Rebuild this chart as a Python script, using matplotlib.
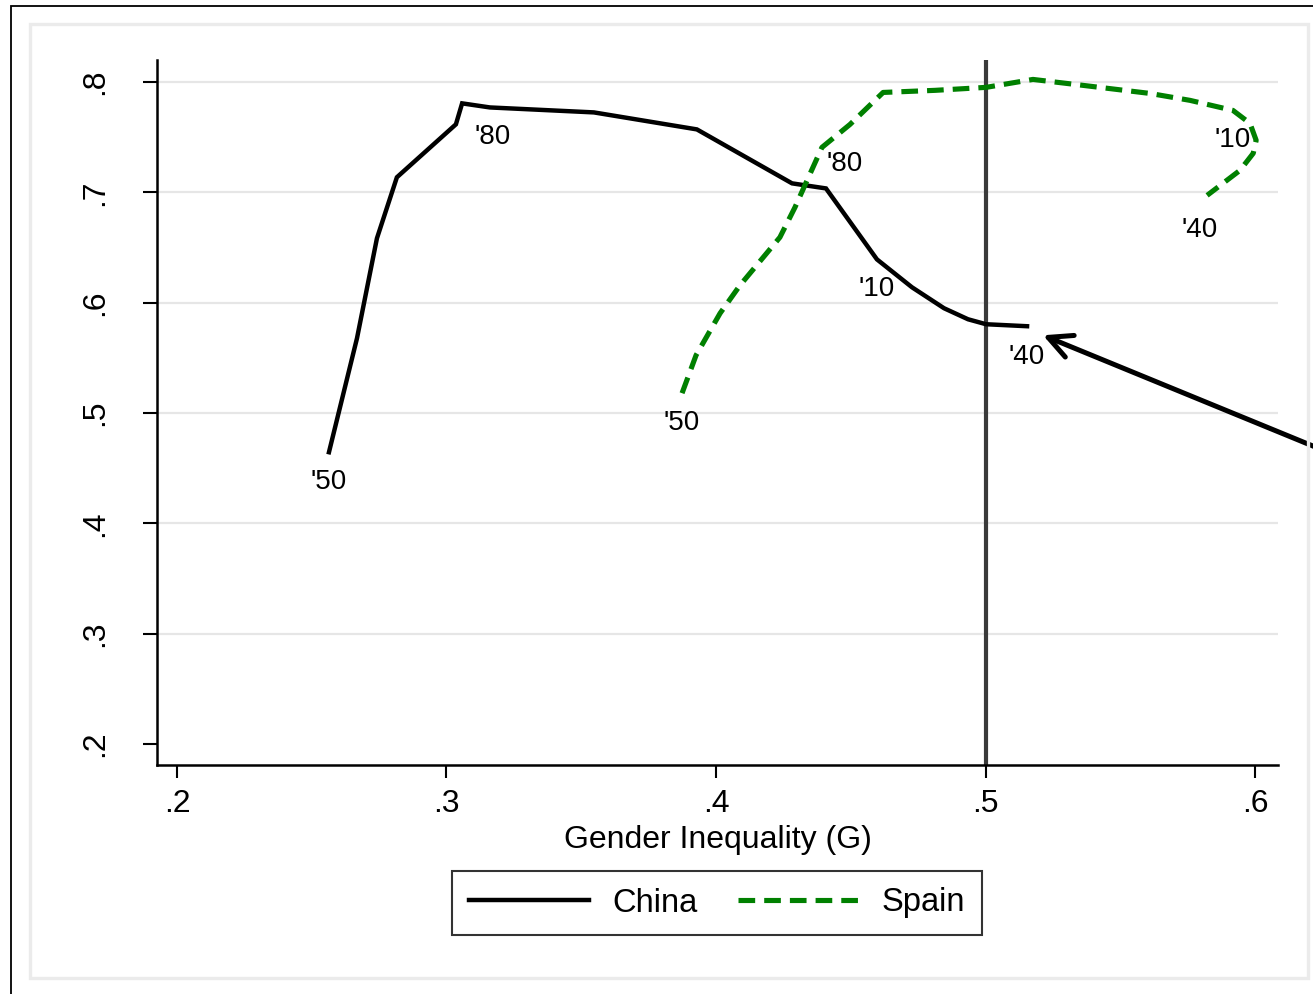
import matplotlib
matplotlib.use('Agg')
import matplotlib.pyplot as plt
from matplotlib.patches import Rectangle

plt.rcParams['font.family'] = ['Liberation Sans', 'DejaVu Sans']
plt.rcParams['lines.scale_dashes'] = False

# China path, 1950 -> 2040
china_g = [0.2564, 0.2668, 0.2742, 0.2816, 0.3035, 0.3058, 0.3161, 0.3547, 0.3929,
           0.4282, 0.4408, 0.4597, 0.4727, 0.4846, 0.4935, 0.5002, 0.5154]
china_y = [0.4645, 0.5678, 0.6584, 0.7137, 0.7617, 0.7807, 0.7770, 0.7725, 0.7571,
           0.7082, 0.7036, 0.6393, 0.6140, 0.5950, 0.5850, 0.5805, 0.5787]
china_lab = ["'50", "", "", "", "", "", "'80", "", "", "", "", "'10", "", "", "", "", "'40"]

# Spain path
spain_g = [0.3874, 0.3926, 0.4015, 0.4089, 0.4237, 0.4293, 0.4393, 0.4497, 0.4620,
           0.4813, 0.5002, 0.5176, 0.5362, 0.5610, 0.5759, 0.5918, 0.5981, 0.6004,
           0.5993, 0.5944, 0.5822]
spain_y = [0.5180, 0.5524, 0.5904, 0.6158, 0.6593, 0.6865, 0.7408, 0.7616, 0.7906,
           0.7925, 0.7952, 0.8024, 0.7970, 0.7897, 0.7834, 0.7743, 0.7626, 0.7472,
           0.7354, 0.7200, 0.6973]
spain_lab = ["'50", "", "", "", "", "", "'80", "", "", "", "", "", "", "", "", "",
             "", "'10", "", "", "'40"]

xticks = [0.2, 0.3, 0.4, 0.5, 0.6]
xticklabels = ['.2', '.3', '.4', '.5', '.6']
yticks = [0.2, 0.3, 0.4, 0.5, 0.6, 0.7, 0.8]
yticklabels = ['.2', '.3', '.4', '.5', '.6', '.7', '.8']

fig = plt.figure(figsize=(13.13, 9.94), dpi=100)
ax = fig.add_axes([157 / 1313, 1 - 765 / 994, (1278 - 157) / 1313, (765 - 60) / 994])

# frames around the graph (outer one is cut off by the image edge)
fig.patches.append(Rectangle((11 / 1313, -1), 2, 1 + 1 - 6 / 994, transform=fig.transFigure,
                             fill=False, edgecolor='black', lw=1.3))
fig.patches.append(Rectangle((30 / 1313, 1 - 978 / 994), (1308 - 30) / 1313, (978 - 24) / 994,
                             transform=fig.transFigure, fill=False, edgecolor='#ebebeb', lw=2.4))

ax.set_xlim(0.1926, 0.6085)
ax.set_ylim(0.181, 0.82)

ax.set_yticks(yticks)
ax.set_yticklabels(yticklabels, rotation=90, va='center')
ax.set_xticks(xticks)
ax.set_xticklabels(xticklabels)
ax.yaxis.grid(True, color='#e6e6e6', lw=1.6)
ax.get_ygridlines()[0].set_visible(False)
ax.set_axisbelow(True)

for s in ['top', 'right']:
    ax.spines[s].set_visible(False)
for s in ['left', 'bottom']:
    ax.spines[s].set_linewidth(1.8)

ax.tick_params(axis='y', length=10, width=1.5, pad=24, labelsize=23)
ax.tick_params(axis='x', length=9.5, width=1.5, pad=8, labelsize=23)

ax.axvline(0.5, color='#3a3a3a', lw=3)

ax.plot(china_g, china_y, color='black', lw=3.2, label='China', solid_joinstyle='miter')
ax.plot(spain_g, spain_y, color='#008000', lw=3.7, dashes=(12, 6.5), label='Spain')

# year labels
offs_china = {"'50": (0, -30), "'80": (3, -30), "'10": (0, -30), "'40": (0, -31)}
offs_spain = {"'50": (0, -30), "'80": (23, -17), "'10": (-24, 0), "'40": (-7, -35)}
for g, y, lab in zip(china_g, china_y, china_lab):
    if lab:
        ax.annotate(lab, (g, y), xytext=offs_china[lab], textcoords='offset pixels',
                    ha='center', va='center', fontsize=20)
for g, y, lab in zip(spain_g, spain_y, spain_lab):
    if lab:
        ax.annotate(lab, (g, y), xytext=offs_spain[lab], textcoords='offset pixels',
                    ha='center', va='center', fontsize=20)

# arrow pointing at the end of the China path
ax.annotate('', xy=(0.5213, 0.5705), xytext=(0.66, 0.4315),
            arrowprops=dict(arrowstyle='->', lw=3.6, color='black', mutation_scale=42,
                            shrinkA=0, shrinkB=0),
            annotation_clip=False)

ax.set_xlabel('Gender Inequality (G)', fontsize=23, labelpad=4)

leg = fig.legend(loc='center', bbox_to_anchor=(717 / 1313, 1 - 903 / 994), ncol=2,
                 fontsize=23.5, frameon=True, fancybox=False, edgecolor='black',
                 handlelength=3.7, columnspacing=1.25, handletextpad=0.7, borderpad=0.5)
leg.get_frame().set_linewidth(1.5)

fig.savefig('out.png', dpi=100)
